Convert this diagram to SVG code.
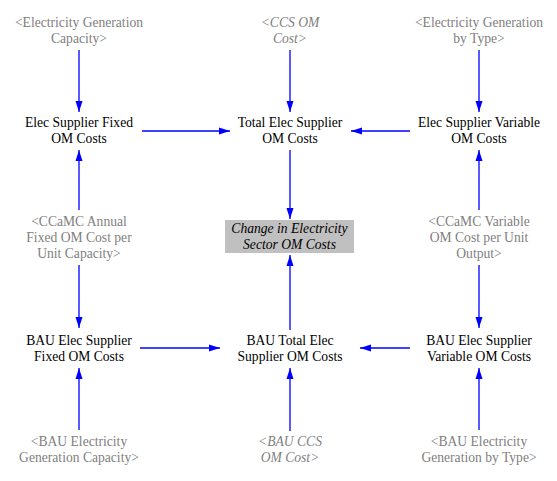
<svg xmlns="http://www.w3.org/2000/svg" width="557" height="481" viewBox="0 0 557 481">
<defs>
<style>
text{font-family:"Liberation Serif","Times New Roman",serif;font-size:13.6px;text-anchor:middle}
.v{fill:#000}
.s{fill:#808080}
.i{font-style:italic}
.c line{stroke:#0000ff;stroke-width:1.3;marker-end:url(#ah)}
</style>
<marker id="ah" markerUnits="userSpaceOnUse" markerWidth="12" markerHeight="8" refX="11" refY="4" orient="auto">
<path d="M0,0.5 L11,4 L0,7.5 z" fill="#0000ff"/>
</marker>
</defs>
<rect width="557" height="481" fill="#fff"/>
<g class="c">
<line x1="79" y1="50" x2="79" y2="112"/>
<line x1="290" y1="50" x2="290" y2="112"/>
<line x1="479" y1="50" x2="479" y2="112"/>
<line x1="142" y1="131" x2="230" y2="131"/>
<line x1="410" y1="131" x2="351" y2="131"/>
<line x1="290" y1="150" x2="290" y2="219"/>
<line x1="79" y1="210" x2="79" y2="150"/>
<line x1="79" y1="265" x2="79" y2="328"/>
<line x1="479" y1="210" x2="479" y2="150"/>
<line x1="479" y1="265" x2="479" y2="328"/>
<line x1="290" y1="330" x2="290" y2="255"/>
<line x1="140" y1="348" x2="220" y2="348"/>
<line x1="410" y1="348" x2="360" y2="348"/>
<line x1="79" y1="430" x2="79" y2="368"/>
<line x1="290" y1="431" x2="290" y2="368"/>
<line x1="479" y1="430" x2="479" y2="368"/>
</g>
<g id="elec-gen-cap"><text class="s" x="79" y="27">&lt;Electricity Generation</text><text class="s" x="79" y="43">Capacity&gt;</text></g>
<g id="ccs-om-cost"><text class="s i" x="290" y="27">&lt;CCS OM</text><text class="s i" x="290" y="43">Cost&gt;</text></g>
<g id="elec-gen-type"><text class="s" x="479" y="27">&lt;Electricity Generation</text><text class="s" x="479" y="43">by Type&gt;</text></g>
<g id="fixed-om"><text class="v" x="79" y="127">Elec Supplier Fixed</text><text class="v" x="79" y="143">OM Costs</text></g>
<g id="total-om"><text class="v" x="290" y="127">Total Elec Supplier</text><text class="v" x="290" y="143">OM Costs</text></g>
<g id="variable-om"><text class="v" x="479" y="127">Elec Supplier Variable</text><text class="v" x="479" y="143">OM Costs</text></g>
<g id="ccamc-fixed"><text class="s" x="79" y="226">&lt;CCaMC Annual</text><text class="s" x="79" y="242">Fixed OM Cost per</text><text class="s" x="79" y="258">Unit Capacity&gt;</text></g>
<g id="change-om"><rect x="225" y="220" width="129" height="33" fill="#c0c0c0"/><text class="v i" x="289.5" y="233">Change in Electricity</text><text class="v i" x="289.5" y="249">Sector OM Costs</text></g>
<g id="ccamc-variable"><text class="s" x="479" y="226">&lt;CCaMC Variable</text><text class="s" x="479" y="242">OM Cost per Unit</text><text class="s" x="479" y="258">Output&gt;</text></g>
<g id="bau-fixed-om"><text class="v" x="79" y="345">BAU Elec Supplier</text><text class="v" x="79" y="361">Fixed OM Costs</text></g>
<g id="bau-total-om"><text class="v" x="290" y="345">BAU Total Elec</text><text class="v" x="290" y="361">Supplier OM Costs</text></g>
<g id="bau-variable-om"><text class="v" x="479" y="345">BAU Elec Supplier</text><text class="v" x="479" y="361">Variable OM Costs</text></g>
<g id="bau-elec-gen-cap"><text class="s" x="79" y="446">&lt;BAU Electricity</text><text class="s" x="79" y="462">Generation Capacity&gt;</text></g>
<g id="bau-ccs-om-cost"><text class="s i" x="290" y="446">&lt;BAU CCS</text><text class="s i" x="290" y="462">OM Cost&gt;</text></g>
<g id="bau-elec-gen-type"><text class="s" x="479" y="446">&lt;BAU Electricity</text><text class="s" x="479" y="462">Generation by Type&gt;</text></g>
</svg>
